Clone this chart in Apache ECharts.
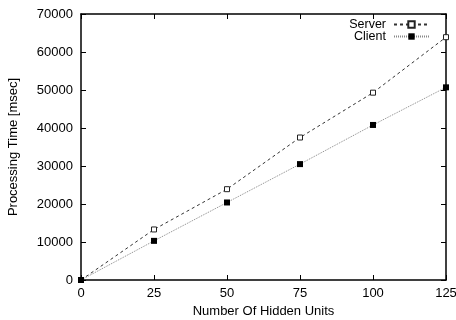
<!DOCTYPE html>
<html><head><meta charset="utf-8">
<script src="https://cdn.jsdelivr.net/npm/echarts@6/dist/echarts.min.js"></script>
<style>html,body{margin:0;padding:0;background:#fff}#c{width:456px;height:320px}</style>
</head><body><div id="c"></div>
<script>
const hiddenUnits = [0, 25, 50, 75, 100, 125];
const serverTime = [0, 13300, 23900, 37500, 49300, 63900];
const clientTime = [0, 10300, 20400, 30500, 40800, 50700];
const xTicks = [0, 25, 50, 75, 100, 125];
const yTicks = [0, 10000, 20000, 30000, 40000, 50000, 60000, 70000];

const font = 'Liberation Sans, Arial, sans-serif';
const chart = echarts.init(document.getElementById('c'), null, {renderer: 'canvas'});
const axisLine = {show: true, onZero: false, lineStyle: {color: '#000', width: 1.5}};
const tickIn = {show: true, inside: true, length: 5, lineStyle: {color: '#000', width: 1}};
chart.setOption({
  animation: false,
  backgroundColor: '#fff',
  grid: {left: 81, right: 10, top: 14, bottom: 40, outerBoundsMode: 'none', containLabel: false},
  legend: {
    right: 21, top: 13, orient: 'vertical', align: 'right', itemGap: -1,
    itemWidth: 35, itemHeight: 8,
    textStyle: {fontFamily: font, fontSize: 12.5, lineHeight: 11, color: '#000', padding: [0, 3, 0, 0]},
    data: ['Server', 'Client']
  },
  xAxis: [{
    type: 'value', min: 0, max: 125, interval: 25,
    name: 'Number Of Hidden Units', nameLocation: 'middle', nameGap: 24,
    nameTextStyle: {fontFamily: font, fontSize: 13, color: '#000'},
    axisLine: axisLine, axisTick: tickIn, splitLine: {show: false},
    axisLabel: {fontFamily: font, fontSize: 13, color: '#000', margin: 7,
      formatter: v => xTicks.includes(v) ? String(v) : ''}
  }, {
    type: 'value', position: 'top', min: 0, max: 125, interval: 25,
    axisLine: axisLine, axisTick: tickIn, axisLabel: {show: false}, splitLine: {show: false}
  }],
  yAxis: [{
    type: 'value', min: 0, max: 70000, interval: 10000,
    name: 'Processing Time [msec]', nameLocation: 'middle', nameGap: 61,
    nameTextStyle: {fontFamily: font, fontSize: 13, color: '#000'},
    axisLine: axisLine, axisTick: tickIn, splitLine: {show: false},
    axisLabel: {fontFamily: font, fontSize: 13, color: '#000', margin: 8,
      formatter: v => yTicks.includes(v) ? String(v) : ''}
  }, {
    type: 'value', position: 'right', min: 0, max: 70000, interval: 10000,
    axisLine: axisLine, axisTick: tickIn, axisLabel: {show: false}, splitLine: {show: false}
  }],
  series: [{
    name: 'Server', type: 'line',
    data: hiddenUnits.map((x, i) => [x, serverTime[i]]),
    symbol: 'rect', symbolSize: 5,
    itemStyle: {color: '#fff', borderColor: '#222', borderWidth: 1},
    lineStyle: {color: '#333', width: 1, type: [3, 3]},
    z: 3
  }, {
    name: 'Client', type: 'line',
    data: hiddenUnits.map((x, i) => [x, clientTime[i]]),
    symbol: 'rect', symbolSize: 6,
    itemStyle: {color: '#000', borderColor: '#000', borderWidth: 0},
    lineStyle: {color: '#888', width: 1, type: [1, 1]},
    z: 3
  }]
});
</script></body></html>
